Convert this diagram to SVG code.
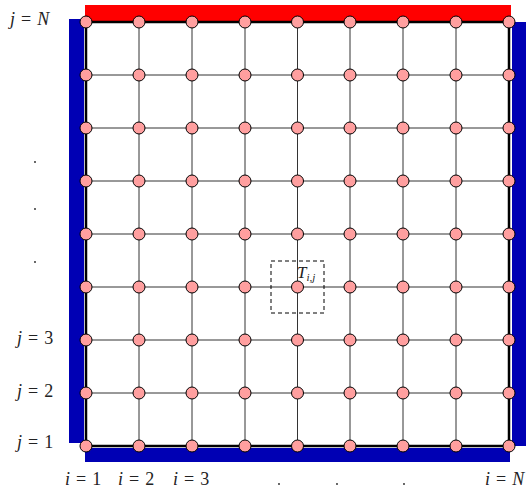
<svg xmlns="http://www.w3.org/2000/svg" width="531" height="491" viewBox="0 0 531 491">
<style>
text{font-family:'Liberation Serif','DejaVu Serif',serif;font-size:18px;fill:#222}
.v{font-style:italic}
.grid line{stroke:#333;stroke-width:1}
.bd{stroke:#000;stroke-width:2.5;fill:none}
.n{fill:#ff9f9f;stroke:#000;stroke-width:1}
.dot{fill:#222}
</style>
<defs>
<circle id="nd" r="6" class="n"/>
</defs>
<rect id="bc-left" x="69" y="19" width="15" height="424" fill="#0000b4"/>
<rect id="bc-top" x="85" y="5" width="426" height="16" fill="#ff0000"/>
<rect id="bc-right" x="512" y="22" width="14" height="424" fill="#0000b4"/>
<rect id="bc-bottom" x="85" y="448" width="425" height="14" fill="#0000b4"/>
<g id="connectors" class="grid">
<line x1="86" y1="75" x2="509" y2="75"/>
<line x1="86" y1="128" x2="509" y2="128"/>
<line x1="86" y1="181" x2="509" y2="181"/>
<line x1="86" y1="234" x2="509" y2="234"/>
<line x1="86" y1="287" x2="509" y2="287"/>
<line x1="86" y1="340" x2="509" y2="340"/>
<line x1="86" y1="393" x2="509" y2="393"/>
<line x1="139" y1="22" x2="139" y2="446"/>
<line x1="192" y1="22" x2="192" y2="446"/>
<line x1="245" y1="22" x2="245" y2="446"/>
<line x1="297.5" y1="22" x2="297.5" y2="446"/>
<line x1="350" y1="22" x2="350" y2="446"/>
<line x1="403" y1="22" x2="403" y2="446"/>
<line x1="456" y1="22" x2="456" y2="446"/>
<rect class="bd" x="86" y="22" width="423" height="424"/>
</g>
<g id="cell">
<rect x="271" y="261" width="53" height="52" fill="none" stroke="#000" stroke-width="1" stroke-dasharray="4,3"/>
<text x="297" y="278" style="font-size:17px"><tspan class="v">T</tspan><tspan class="v" style="font-size:11px" dy="3">i,j</tspan></text>
</g>
<g id="nodes">
<g id="row1"><use href="#nd" x="86" y="446"/><use href="#nd" x="139" y="446"/><use href="#nd" x="192" y="446"/><use href="#nd" x="245" y="446"/><use href="#nd" x="297.5" y="446"/><use href="#nd" x="350" y="446"/><use href="#nd" x="403" y="446"/><use href="#nd" x="456" y="446"/><use href="#nd" x="509" y="446"/></g>
<g id="row2"><use href="#nd" x="86" y="393"/><use href="#nd" x="139" y="393"/><use href="#nd" x="192" y="393"/><use href="#nd" x="245" y="393"/><use href="#nd" x="297.5" y="393"/><use href="#nd" x="350" y="393"/><use href="#nd" x="403" y="393"/><use href="#nd" x="456" y="393"/><use href="#nd" x="509" y="393"/></g>
<g id="row3"><use href="#nd" x="86" y="340"/><use href="#nd" x="139" y="340"/><use href="#nd" x="192" y="340"/><use href="#nd" x="245" y="340"/><use href="#nd" x="297.5" y="340"/><use href="#nd" x="350" y="340"/><use href="#nd" x="403" y="340"/><use href="#nd" x="456" y="340"/><use href="#nd" x="509" y="340"/></g>
<g id="row4"><use href="#nd" x="86" y="287"/><use href="#nd" x="139" y="287"/><use href="#nd" x="192" y="287"/><use href="#nd" x="245" y="287"/><use href="#nd" x="297.5" y="287"/><use href="#nd" x="350" y="287"/><use href="#nd" x="403" y="287"/><use href="#nd" x="456" y="287"/><use href="#nd" x="509" y="287"/></g>
<g id="row5"><use href="#nd" x="86" y="234"/><use href="#nd" x="139" y="234"/><use href="#nd" x="192" y="234"/><use href="#nd" x="245" y="234"/><use href="#nd" x="297.5" y="234"/><use href="#nd" x="350" y="234"/><use href="#nd" x="403" y="234"/><use href="#nd" x="456" y="234"/><use href="#nd" x="509" y="234"/></g>
<g id="row6"><use href="#nd" x="86" y="181"/><use href="#nd" x="139" y="181"/><use href="#nd" x="192" y="181"/><use href="#nd" x="245" y="181"/><use href="#nd" x="297.5" y="181"/><use href="#nd" x="350" y="181"/><use href="#nd" x="403" y="181"/><use href="#nd" x="456" y="181"/><use href="#nd" x="509" y="181"/></g>
<g id="row7"><use href="#nd" x="86" y="128"/><use href="#nd" x="139" y="128"/><use href="#nd" x="192" y="128"/><use href="#nd" x="245" y="128"/><use href="#nd" x="297.5" y="128"/><use href="#nd" x="350" y="128"/><use href="#nd" x="403" y="128"/><use href="#nd" x="456" y="128"/><use href="#nd" x="509" y="128"/></g>
<g id="row8"><use href="#nd" x="86" y="75"/><use href="#nd" x="139" y="75"/><use href="#nd" x="192" y="75"/><use href="#nd" x="245" y="75"/><use href="#nd" x="297.5" y="75"/><use href="#nd" x="350" y="75"/><use href="#nd" x="403" y="75"/><use href="#nd" x="456" y="75"/><use href="#nd" x="509" y="75"/></g>
<g id="row9"><use href="#nd" x="86" y="22"/><use href="#nd" x="139" y="22"/><use href="#nd" x="192" y="22"/><use href="#nd" x="245" y="22"/><use href="#nd" x="297.5" y="22"/><use href="#nd" x="350" y="22"/><use href="#nd" x="403" y="22"/><use href="#nd" x="456" y="22"/><use href="#nd" x="509" y="22"/></g>
</g>
<g id="labels">
<text x="10" y="25"><tspan class="v">j</tspan><tspan dx="6">=</tspan><tspan class="v" dx="6">N</tspan></text>
<text x="17" y="344"><tspan class="v">j</tspan><tspan dx="6">=</tspan><tspan dx="6">3</tspan></text>
<text x="17" y="397"><tspan class="v">j</tspan><tspan dx="6">=</tspan><tspan dx="6">2</tspan></text>
<text x="17" y="448"><tspan class="v">j</tspan><tspan dx="6">=</tspan><tspan dx="6">1</tspan></text>
<text x="65" y="485"><tspan class="v">i</tspan><tspan dx="6">=</tspan><tspan dx="6">1</tspan></text>
<text x="118" y="485"><tspan class="v">i</tspan><tspan dx="6">=</tspan><tspan dx="6">2</tspan></text>
<text x="173" y="485"><tspan class="v">i</tspan><tspan dx="6">=</tspan><tspan dx="6">3</tspan></text>
<text x="485" y="485"><tspan class="v">i</tspan><tspan dx="6">=</tspan><tspan class="v" dx="6">N</tspan></text>
</g>
<g id="dots">
<circle class="dot" cx="35" cy="162" r="0.9"/>
<circle class="dot" cx="35" cy="209" r="0.9"/>
<circle class="dot" cx="35" cy="262" r="0.9"/>
<circle class="dot" cx="279" cy="484" r="0.9"/>
<circle class="dot" cx="337" cy="484" r="0.9"/>
<circle class="dot" cx="404" cy="484" r="0.9"/>
</g>
</svg>
